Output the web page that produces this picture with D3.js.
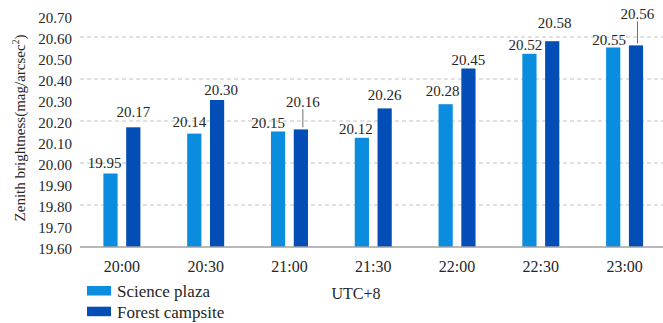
<!DOCTYPE html>
<html>
<head>
<meta charset="utf-8">
<script src="https://cdn.jsdelivr.net/npm/d3@7"></script>
<style>
  html, body { margin: 0; padding: 0; background: #ffffff; }
  svg { display: block; }
  svg text { font-family: "Liberation Serif", "Times New Roman", Times, "DejaVu Serif", serif; }
</style>
</head>
<body>
<svg id="chart" width="663" height="323"></svg>
<script>
// Observation times (UTC+8)
const times = ["20:00", "20:30", "21:00", "21:30", "22:00", "22:30", "23:00"];
// Zenith sky brightness, mag/arcsec²
const sciencePlaza = [19.95, 20.14, 20.15, 20.12, 20.28, 20.52, 20.55];
const forestCampsite = [20.17, 20.30, 20.16, 20.26, 20.45, 20.58, 20.56];
const seriesNames = ["Science plaza", "Forest campsite"];
const yTicks = [19.60, 19.70, 19.80, 19.90, 20.00, 20.10, 20.20, 20.30, 20.40, 20.50, 20.60, 20.70];
const gridValues = [19.80, 20.00, 20.20, 20.40, 20.60];

// Label placement tweaks: horizontal shift and height of the label above the bar top (px)
const scienceLabelShift = [-6, -5, -10, -6, -3, -4, -4];
const scienceLabelLift = [11, 12, 9, 9.5, 13, 9, 8];
const forestLabelShift = [0, 4, 2, 0, 0, 2.5, 1.5];
const forestLabelLift = [16, 10, 28, 14, 9, 18, 32];
const forestLeader = [false, false, true, false, false, false, true];

const colors = { "Science plaza": "#0b8ddf", "Forest campsite": "#024db6" };
const serif = "'Liberation Serif', 'Times New Roman', Times, 'DejaVu Serif', serif";
const ink = "#262626";

const svg = d3.select("#chart");
const plot = { left: 80, right: 666.5, top: 16, bottom: 247 };

const x0 = d3.scaleBand().domain(times).range([plot.left, plot.right])
  .paddingInner(0.456).paddingOuter(0.228);
const x1 = d3.scaleBand().domain(seriesNames).range([0, x0.bandwidth()])
  .paddingInner(0.377).paddingOuter(0.1885);
const y = d3.scaleLinear().domain([19.6, 20.7]).range([plot.bottom, plot.top]);

// dashed gridlines
svg.append("g").selectAll("line").data(gridValues).join("line")
  .attr("x1", plot.left).attr("x2", plot.right)
  .attr("y1", d => y(d)).attr("y2", d => y(d))
  .attr("stroke", "#c4c4c4").attr("stroke-width", 1)
  .attr("stroke-dasharray", "4,3");

// y axis (labels only)
const yAxis = svg.append("g").attr("transform", `translate(${plot.left},0)`)
  .call(d3.axisLeft(y).tickValues(yTicks).tickSize(0).tickPadding(8).tickFormat(d3.format(".2f")));
yAxis.attr("font-family", serif);
yAxis.select(".domain").remove();
yAxis.selectAll("text").attr("font-size", 15).attr("fill", ink).attr("dy", "0.42em");

// bars
const rows = times.map((t, i) => ({ time: t, values: [
  { name: "Science plaza", value: sciencePlaza[i], shift: scienceLabelShift[i], lift: scienceLabelLift[i], leader: false },
  { name: "Forest campsite", value: forestCampsite[i], shift: forestLabelShift[i], lift: forestLabelLift[i], leader: forestLeader[i] }
]}));

const groups = svg.append("g").selectAll("g").data(rows).join("g")
  .attr("transform", d => `translate(${x0(d.time)},0)`);

groups.selectAll("rect").data(d => d.values).join("rect")
  .attr("x", d => x1(d.name))
  .attr("width", x1.bandwidth())
  .attr("y", d => y(d.value))
  .attr("height", d => y(19.6) - y(d.value))
  .attr("fill", d => colors[d.name]);

// leader lines for displaced labels
groups.selectAll("line.leader").data(d => d.values.filter(v => v.leader)).join("line")
  .attr("class", "leader")
  .attr("x1", d => x1(d.name) + x1.bandwidth() / 2 + d.shift)
  .attr("x2", d => x1(d.name) + x1.bandwidth() / 2 + d.shift)
  .attr("y1", d => y(d.value) - d.lift + 8)
  .attr("y2", d => y(d.value) - 2)
  .attr("stroke", "#6e6e6e").attr("stroke-width", 1);

// value labels
groups.selectAll("text.val").data(d => d.values).join("text")
  .attr("class", "val")
  .attr("x", d => x1(d.name) + x1.bandwidth() / 2 + d.shift)
  .attr("y", d => y(d.value) - d.lift)
  .attr("dy", "0.35em")
  .attr("text-anchor", "middle")
  .attr("font-size", 15)
  .attr("fill", ink)
  .text(d => d3.format(".2f")(d.value));

// x axis baseline and labels
const xAxis = svg.append("g").attr("transform", `translate(0,${plot.bottom})`)
  .call(d3.axisBottom(x0).tickSize(0).tickPadding(14));
xAxis.attr("font-family", serif);
xAxis.select(".domain").remove();
xAxis.selectAll("text").attr("font-size", 16).attr("fill", ink);
svg.append("line")
  .attr("x1", plot.left).attr("x2", plot.right)
  .attr("y1", plot.bottom).attr("y2", plot.bottom)
  .attr("stroke", "#a0a0a0").attr("stroke-width", 1.5);

// axis titles
svg.append("text")
  .attr("x", 356).attr("y", 293).attr("dy", "0.35em")
  .attr("text-anchor", "middle").attr("font-size", 16).attr("fill", ink)
  .text("UTC+8");

const yTitle = svg.append("text")
  .attr("transform", "translate(25,128) rotate(-90)")
  .attr("text-anchor", "middle").attr("font-size", 15).attr("fill", ink);
yTitle.append("tspan").text("Zenith brightness(mag/arcsec");
yTitle.append("tspan").attr("font-size", 9.5).attr("dy", "-6").text("2");
yTitle.append("tspan").attr("dy", "6").text(")");

// legend
const legend = svg.append("g").selectAll("g").data(seriesNames).join("g")
  .attr("transform", (d, i) => `translate(87,${286 + i * 20.7})`);
legend.append("rect").attr("width", 24).attr("height", 9.5).attr("fill", d => colors[d]);
legend.append("text").attr("x", 30).attr("y", 5).attr("dy", "0.35em")
  .attr("font-size", 17).attr("fill", ink).text(d => d);
</script>
</body>
</html>
